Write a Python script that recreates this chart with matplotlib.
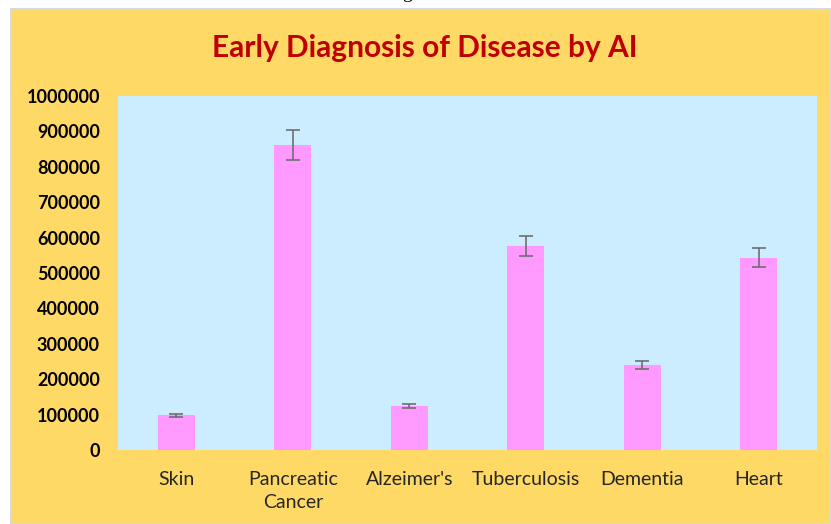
import numpy as np
import matplotlib
matplotlib.use("Agg")
import matplotlib.pyplot as plt
from matplotlib.patches import Rectangle

# data
categories = ["Skin", "Pancreatic\nCancer", "Alzeimer's", "Tuberculosis", "Dementia", "Heart"]
cases = [98000, 861000, 124000, 576000, 240000, 543000]
errors = [4900, 43000, 6200, 28800, 12000, 27000]
yticks = [0, 100000, 200000, 300000, 400000, 500000, 600000, 700000, 800000, 900000, 1000000]

plt.rcParams['font.family'] = ['Lato', 'DejaVu Sans']

fig = plt.figure(figsize=(8.31, 5.24), dpi=100, facecolor='white')

# yellow chart background with thin gray frame
W, H = 831, 524
bg = Rectangle((11 / W, 0), 1 - 11 / W, 1 - 9 / H, transform=fig.transFigure,
               facecolor='#FFD966', edgecolor='#D9D9D9', linewidth=1.5, zorder=-5)
fig.patches.append(bg)

# stray caption glyph cut off at the very top
fig.text(0.49, 1.004, "g", fontsize=14, family='Liberation Serif', ha='center', va='baseline')

ax = fig.add_axes([118 / W, 74 / H, (817 - 118) / W, (450 - 96) / H])
ax.set_zorder(2)
ax.set_facecolor('#CCECFF')

x = np.arange(len(categories))
ax.bar(x, cases, width=0.32, color='#FF99FF', zorder=2)
ax.errorbar(x, cases, yerr=errors, fmt='none', ecolor='#6E6E6E', elinewidth=1.2,
            capsize=5, capthick=1.2, zorder=3)

ax.set_xlim(-0.5, len(categories) - 0.5)
ax.set_ylim(0, 1000000)
ax.set_yticks(yticks)
ax.set_yticklabels([str(v) for v in yticks], fontweight='bold', fontsize=13)
ax.set_xticks(x)
ax.set_xticklabels(categories, fontsize=14, color='#262626', linespacing=1.45)
ax.tick_params(axis='both', length=0)
ax.tick_params(axis='y', pad=13)
ax.tick_params(axis='x', pad=15)
for s in ax.spines.values():
    s.set_visible(False)

fig.text(425 / W, 1 - 48 / H, "Early Diagnosis of Disease by AI", ha='center', va='center',
         fontsize=21.5, fontweight='bold', color='#C00000')

fig.savefig("out.png", dpi=100, facecolor=fig.get_facecolor())
